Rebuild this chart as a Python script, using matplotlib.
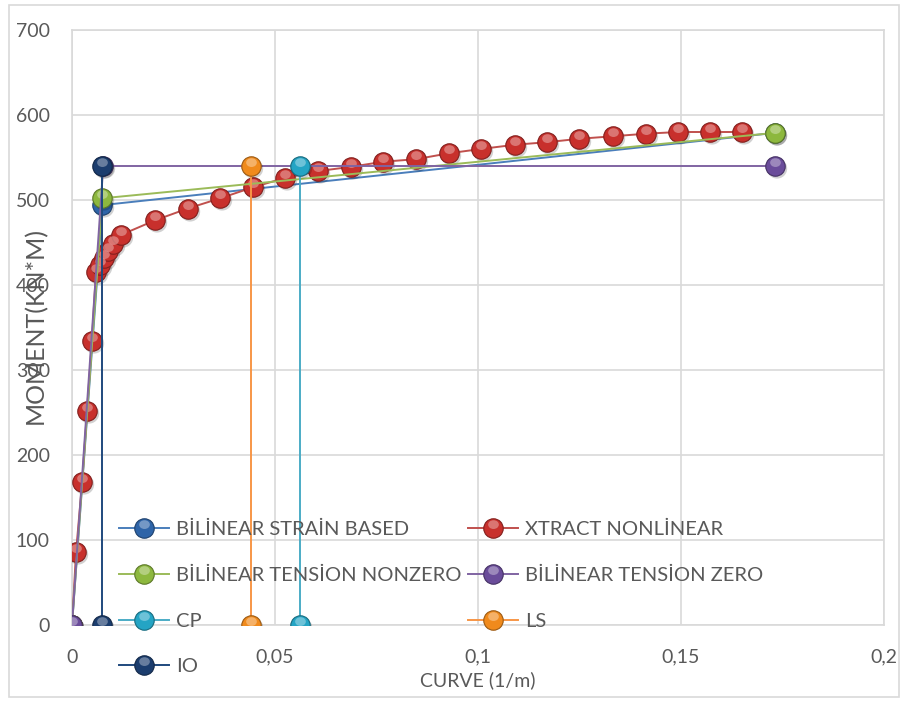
import matplotlib
matplotlib.use("Agg")
import matplotlib.pyplot as plt
from matplotlib.markers import MarkerStyle
from matplotlib.transforms import Affine2D
from matplotlib.patches import Rectangle

plt.rcParams['font.family'] = ['Lato', 'DejaVu Sans']

# Moment-curvature data
xtract_x = [0, 0.0010, 0.0025, 0.0037, 0.0049, 0.0059, 0.0069, 0.0079, 0.0089, 0.0101,
            0.0121, 0.0204, 0.0285, 0.0365, 0.0446, 0.0525, 0.0606, 0.0687, 0.0766,
            0.0847, 0.0929, 0.1007, 0.1091, 0.1170, 0.1249, 0.1333, 0.1414, 0.1493,
            0.1571, 0.1650]
xtract_y = [0, 86, 168, 252, 334, 415, 424, 432, 440, 448, 459, 476, 490, 502, 515,
            526, 534, 539, 545, 548, 555, 560, 565, 568, 572, 575, 578, 580, 580, 580]

strain_x = [0, 0.0075, 0.1732]
strain_y = [0, 494, 579]
nonzero_x = [0, 0.0075, 0.1732]
nonzero_y = [0, 502, 579]
zero_x = [0, 0.0077, 0.1732]
zero_y = [0, 540, 540]

cp_x = [0.0562, 0.0562]
cp_y = [0, 540]
ls_x = [0.0441, 0.0441]
ls_y = [0, 540]
io_x = [0.0075, 0.0075]
io_y = [0, 540]

x_ticks = [0, 0.05, 0.1, 0.15, 0.2]
x_tick_labels = ["0", "0,05", "0,1", "0,15", "0,2"]
y_ticks = [0, 100, 200, 300, 400, 500, 600, 700]

series = [
    ("BİLİNEAR STRAİN BASED", strain_x, strain_y, "#4a7ebb", "#2e64a8"),
    ("XTRACT NONLİNEAR", xtract_x, xtract_y, "#c0504d", "#c8302c"),
    ("BİLİNEAR TENSİON NONZERO", nonzero_x, nonzero_y, "#9bbb59", "#8db83e"),
    ("BİLİNEAR TENSİON ZERO", zero_x, zero_y, "#8064a2", "#6a4c9a"),
    ("CP", cp_x, cp_y, "#4bacc6", "#24a4c4"),
    ("LS", ls_x, ls_y, "#f79646", "#f08a1c"),
    ("IO", io_x, io_y, "#1f497d", "#1b3d6e"),
]


def lighten(c, f):
    r, g, b = matplotlib.colors.to_rgb(c)
    return (r + (1 - r) * f, g + (1 - g) * f, b + (1 - b) * f)


def darken(c, f):
    r, g, b = matplotlib.colors.to_rgb(c)
    return (r * (1 - f), g * (1 - f), b * (1 - f))


fig = plt.figure(figsize=(9.06, 7.02), dpi=100)
fig.patch.set_facecolor("white")
ax = fig.add_axes([72 / 906, 77 / 702, 812 / 906, 595 / 702])

# sphere look: soft drop shadow, base ball, light highlight on top
hl_marker = MarkerStyle("o", transform=Affine2D().scale(0.55, 0.45).translate(0, 0.2))
shadow_marker = MarkerStyle("o", transform=Affine2D().translate(0.08, -0.1))

handles = {}
for i, (name, xs, ys, lc, mc) in enumerate(series):
    z = 3 + i
    ax.plot(xs, ys, ls="none", marker=shadow_marker, ms=14.5, mfc=(0, 0, 0, 0.18),
            mec="none", zorder=z - 0.5)
    base, = ax.plot(xs, ys, color=lc, lw=1.4, marker="o", ms=14, mfc=mc,
                    mec=darken(mc, 0.35), mew=0.8, zorder=z)
    hl, = ax.plot(xs, ys, ls="none", marker=hl_marker, ms=14,
                  mfc=lighten(mc, 0.45), mec="none", alpha=0.75, zorder=z + 0.1)
    handles[name] = (base, hl)

ax.set_xlim(0, 0.2)
ax.set_ylim(0, 700)
ax.set_xticks(x_ticks)
ax.set_xticklabels(x_tick_labels)
ax.set_yticks(y_ticks)
ax.grid(True, color="#d9d9d9", lw=1.2)
ax.set_axisbelow(True)
for s in ax.spines.values():
    s.set_color("#d9d9d9")
    s.set_linewidth(1.2)
ax.tick_params(length=0, labelsize=14, labelcolor="#595959")
ax.tick_params(axis="x", pad=17)
ax.tick_params(axis="y", pad=16)
for lab in ax.get_xticklabels() + ax.get_yticklabels():
    lab.set_clip_on(False)

fig.text(35 / 906, 1 - 325 / 702, "MOMENT(KN*M)", rotation=90, ha="center",
         va="center", fontsize=18, color="#595959")
fig.text(478 / 906, 1 - 680 / 702, "CURVE (1/m)", ha="center", va="center",
         fontsize=14, color="#595959")

order = ["BİLİNEAR STRAİN BASED", "BİLİNEAR TENSİON NONZERO", "CP", "IO",
         "XTRACT NONLİNEAR", "BİLİNEAR TENSİON ZERO", "LS"]
leg = fig.legend([handles[n] for n in order], order, ncol=2, loc="upper left",
                 bbox_to_anchor=(119 / 906, 1 - 521 / 702), frameon=False,
                 fontsize=14.5, labelcolor="#595959", numpoints=1,
                 handlelength=2.5, handletextpad=0.35, columnspacing=0.3,
                 labelspacing=1.42, borderpad=0, borderaxespad=0)
leg.set_zorder(20)

fig.add_artist(Rectangle((9 / 906, 5 / 702), 890 / 906, 692 / 702,
                         transform=fig.transFigure, fill=False,
                         edgecolor="#d9d9d9", lw=1.2))

fig.savefig("out.png", dpi=100, facecolor="white")
